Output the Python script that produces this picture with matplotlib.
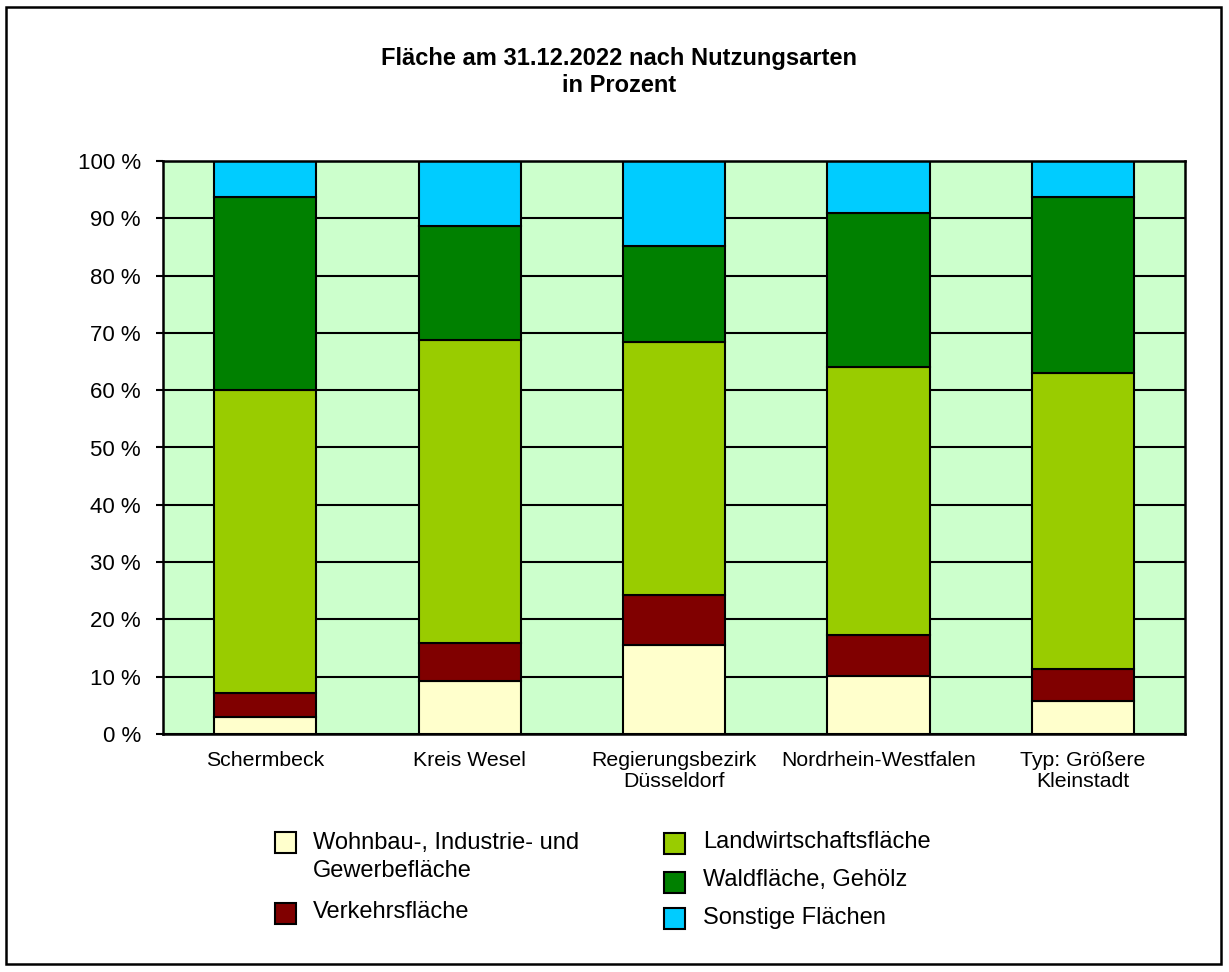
import numpy as np
import matplotlib
matplotlib.use("Agg")
import matplotlib.pyplot as plt
from matplotlib.patches import Rectangle

plt.rcParams['font.family'] = ['Liberation Sans', 'DejaVu Sans']

# data (percent)
regions = ["Schermbeck", "Kreis Wesel", "Regierungsbezirk\nDüsseldorf",
           "Nordrhein-Westfalen", "Typ: Größere\nKleinstadt"]
wohnbau = [3.0, 9.2, 15.6, 10.2, 5.7]
verkehr = [4.1, 6.6, 8.6, 7.1, 5.7]
landwirtschaft = [52.9, 53.0, 44.2, 46.8, 51.6]
wald = [33.8, 19.9, 16.8, 26.8, 30.8]
sonstige = [6.2, 11.3, 14.8, 9.1, 6.2]

series_labels = ["Wohnbau-, Industrie- und\nGewerbefläche", "Verkehrsfläche",
                 "Landwirtschaftsfläche", "Waldfläche, Gehölz", "Sonstige Flächen"]
series_colors = ["#FFFFCC", "#800000", "#99CC00", "#008000", "#00CCFF"]
yticks = [0, 10, 20, 30, 40, 50, 60, 70, 80, 90, 100]

W, H = 1229, 972
fig = plt.figure(figsize=(W / 100, H / 100), dpi=100)
ax = fig.add_axes([163 / W, 1 - 734 / H, 1022 / W, 573 / H])
ax.set_facecolor("#CCFFCC")

x = np.arange(len(regions))
bottom = np.zeros(len(regions))
for vals, col in zip([wohnbau, verkehr, landwirtschaft, wald, sonstige], series_colors):
    ax.bar(x, vals, 0.5, bottom=bottom, color=col, edgecolor="black",
           linewidth=1.5, zorder=3)
    bottom += np.array(vals)

ax.set_xlim(-0.5, len(regions) - 0.5)
ax.set_ylim(0, 100)
ax.set_yticks(yticks)
ax.set_yticklabels([f"{v} %" for v in yticks], fontsize=16)
ax.set_xticks(x)
ax.set_xticklabels(regions, fontsize=15.3, linespacing=1.15)
ax.tick_params(axis="x", length=0, pad=12)
ax.tick_params(axis="y", length=5, width=1.5, pad=11, direction="out")
ax.yaxis.grid(True, color="black", linewidth=1.5, zorder=1)
ax.set_axisbelow(True)
for s in ax.spines.values():
    s.set_linewidth(1.8)
    s.set_zorder(4)

fig.text(619 / W, 1 - 72 / H, "Fläche am 31.12.2022 nach Nutzungsarten\nin Prozent",
         ha="center", va="center", fontsize=17, fontweight="bold", linespacing=1.2)

# legend, placed by hand (pixel positions)
patch_pos = [(275, 832), (275, 903), (664, 833), (664, 872), (664, 908)]
text_pos = [(313, 857), (313, 912), (703, 842), (703, 880), (703, 918)]
for (px, py), (tx, ty), lab, col in zip(patch_pos, text_pos, series_labels, series_colors):
    fig.add_artist(Rectangle((px / W, 1 - (py + 21) / H), 21 / W, 21 / H,
                             transform=fig.transFigure, facecolor=col,
                             edgecolor="black", linewidth=1.5))
    fig.text(tx / W, 1 - ty / H, lab, ha="left", va="center", fontsize=17,
             linespacing=1.35)

# outer frame
fig.add_artist(Rectangle((6 / W, 1 - 964 / H), 1215 / W, 957 / H,
                         transform=fig.transFigure, fill=False,
                         edgecolor="black", linewidth=1.8))

fig.savefig("out.png", dpi=100)
